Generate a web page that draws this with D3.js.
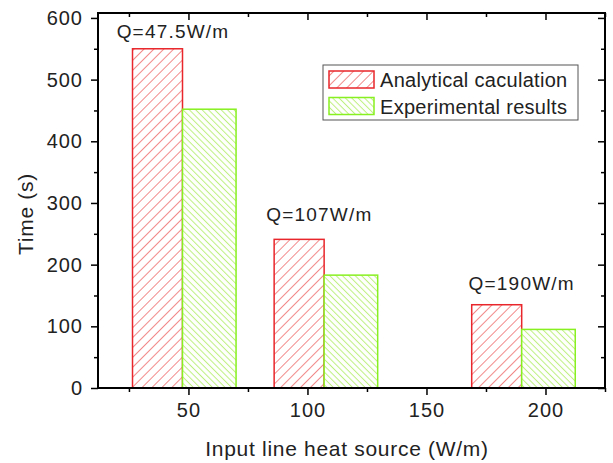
<!DOCTYPE html>
<html>
<head>
<meta charset="utf-8">
<script src="https://cdn.jsdelivr.net/npm/d3@7"></script>
<style>
  body { margin: 0; background: #fff; }
  svg { display: block; font-family: "Liberation Sans", Arial, sans-serif; }
</style>
</head>
<body>
<div id="chart"></div>
<script>
// data
const heatSource = [47.5, 107, 190]          // W/m, bar pair boundary
const analytical = [550, 241, 135]          // s
const experimental = [452, 183, 95]         // s
const groupLabels = ["Q=47.5W/m", "Q=107W/m", "Q=190W/m"]
const labelX = [43.5, 105, 190]
const labelY = [567, 271, 159]
const seriesNames = ["Analytical caculation", "Experimental results"]
const xMajor = [50, 100, 150, 200]
const xMinor = [25, 75, 125, 175, 225]
const yMajor = [0, 100, 200, 300, 400, 500, 600]
const yMinor = [50, 150, 250, 350, 450, 550]

const width = 613, height = 463
const plotL = 98, plotR = 605, plotT = 13, plotB = 388

const x = d3.scaleLinear().domain([12, 225]).range([plotL, plotR])
const y = d3.scaleLinear().domain([0, 608]).range([plotB, plotT])

const redW = 21, greenW = 22.5
const colors = {
  red: "#e8262b", redHatch: "#f28a8a",
  green: "#88f020", greenHatch: "#bdf07e"
}

const svg = d3.select("#chart").append("svg")
  .attr("width", width)
  .attr("height", height)

const defs = svg.append("defs")
function hatch(id, spacing, angle, color) {
  const p = defs.append("pattern")
    .attr("id", id)
    .attr("patternUnits", "userSpaceOnUse")
    .attr("width", spacing)
    .attr("height", spacing)
    .attr("patternTransform", `rotate(${angle})`)
  p.append("rect").attr("width", spacing).attr("height", spacing).attr("fill", "#fff")
  p.append("line")
    .attr("x1", spacing / 2).attr("x2", spacing / 2)
    .attr("y1", 0).attr("y2", spacing)
    .attr("stroke", color).attr("stroke-width", 1)
}
hatch("hatchRed", 7, 45, colors.redHatch)
hatch("hatchGreen", 4.5, -45, colors.greenHatch)

// bars
const idx = d3.range(heatSource.length)
svg.append("g").selectAll("rect")
  .data(idx)
  .join("rect")
    .attr("x", i => x(heatSource[i] - redW))
    .attr("y", i => y(analytical[i]))
    .attr("width", x(redW) - x(0))
    .attr("height", i => y(0) - y(analytical[i]))
    .attr("fill", "url(#hatchRed)")
    .attr("stroke", colors.red)
    .attr("stroke-width", 1.5)

svg.append("g").selectAll("rect")
  .data(idx)
  .join("rect")
    .attr("x", i => x(heatSource[i]))
    .attr("y", i => y(experimental[i]))
    .attr("width", x(greenW) - x(0))
    .attr("height", i => y(0) - y(experimental[i]))
    .attr("fill", "url(#hatchGreen)")
    .attr("stroke", colors.green)
    .attr("stroke-width", 1.5)

// axes
function styleAxis(g) {
  g.select(".domain").remove()
  g.selectAll("line").attr("stroke", "#000").attr("stroke-width", 1.5)
  g.selectAll("text").attr("font-size", 20).attr("fill", "#222")
    .attr("letter-spacing", 1)
    .style("font-family", "'Liberation Sans', Arial, sans-serif")
}

svg.append("g").attr("transform", `translate(0,${plotB})`)
  .call(d3.axisBottom(x).tickValues(xMajor).tickSize(7).tickPadding(8))
  .call(styleAxis)
svg.append("g").attr("transform", `translate(0,${plotB})`)
  .call(d3.axisBottom(x).tickValues(xMinor).tickSize(4).tickFormat(""))
  .call(styleAxis)
svg.append("g").attr("transform", `translate(0,${plotT})`)
  .call(d3.axisBottom(x).tickValues(xMajor).tickSize(7).tickFormat(""))
  .call(styleAxis)
svg.append("g").attr("transform", `translate(0,${plotT})`)
  .call(d3.axisBottom(x).tickValues(xMinor).tickSize(4).tickFormat(""))
  .call(styleAxis)

svg.append("g").attr("transform", `translate(${plotL},0)`)
  .call(d3.axisLeft(y).tickValues(yMajor).tickSize(7).tickPadding(8))
  .call(styleAxis)
svg.append("g").attr("transform", `translate(${plotL},0)`)
  .call(d3.axisLeft(y).tickValues(yMinor).tickSize(4).tickFormat(""))
  .call(styleAxis)
svg.append("g").attr("transform", `translate(${plotR},0)`)
  .call(d3.axisLeft(y).tickValues(yMajor).tickSize(7).tickFormat(""))
  .call(styleAxis)
svg.append("g").attr("transform", `translate(${plotR},0)`)
  .call(d3.axisLeft(y).tickValues(yMinor).tickSize(4).tickFormat(""))
  .call(styleAxis)

// frame
svg.append("rect")
  .attr("x", plotL).attr("y", plotT)
  .attr("width", plotR - plotL).attr("height", plotB - plotT)
  .attr("fill", "none").attr("stroke", "#000").attr("stroke-width", 2)

// axis titles
svg.append("text")
  .attr("x", 347).attr("y", 456)
  .attr("text-anchor", "middle")
  .attr("font-size", 21).attr("letter-spacing", 0.7).attr("fill", "#222")
  .text("Input line heat source (W/m)")

svg.append("text")
  .attr("transform", "translate(33,214) rotate(-90)")
  .attr("text-anchor", "middle")
  .attr("font-size", 21).attr("letter-spacing", 0.7).attr("fill", "#222")
  .text("Time (s)")

// group labels
svg.append("g").selectAll("text")
  .data(idx)
  .join("text")
    .attr("x", i => x(labelX[i]))
    .attr("y", i => y(labelY[i]))
    .attr("text-anchor", "middle")
    .attr("font-size", 19)
    .attr("letter-spacing", 1.2)
    .attr("fill", "#222")
    .text(i => groupLabels[i])

// legend
const legend = svg.append("g").attr("transform", "translate(323,65)")
legend.append("rect")
  .attr("width", 255).attr("height", 55)
  .attr("fill", "#fff").attr("stroke", "#555").attr("stroke-width", 1)
const swatchFill = ["url(#hatchRed)", "url(#hatchGreen)"]
const swatchStroke = [colors.red, colors.green]
const item = legend.selectAll("g.item")
  .data(seriesNames)
  .join("g")
    .attr("class", "item")
    .attr("transform", (d, i) => `translate(6,${6 + i * 26.5})`)
item.append("rect")
  .attr("width", 45).attr("height", 17)
  .attr("fill", (d, i) => swatchFill[i])
  .attr("stroke", (d, i) => swatchStroke[i])
  .attr("stroke-width", 1.5)
item.append("text")
  .attr("x", 51).attr("y", 16)
  .attr("font-size", 20).attr("letter-spacing", 0.3)
  .attr("fill", "#222")
  .text(d => d)
</script>
</body>
</html>
